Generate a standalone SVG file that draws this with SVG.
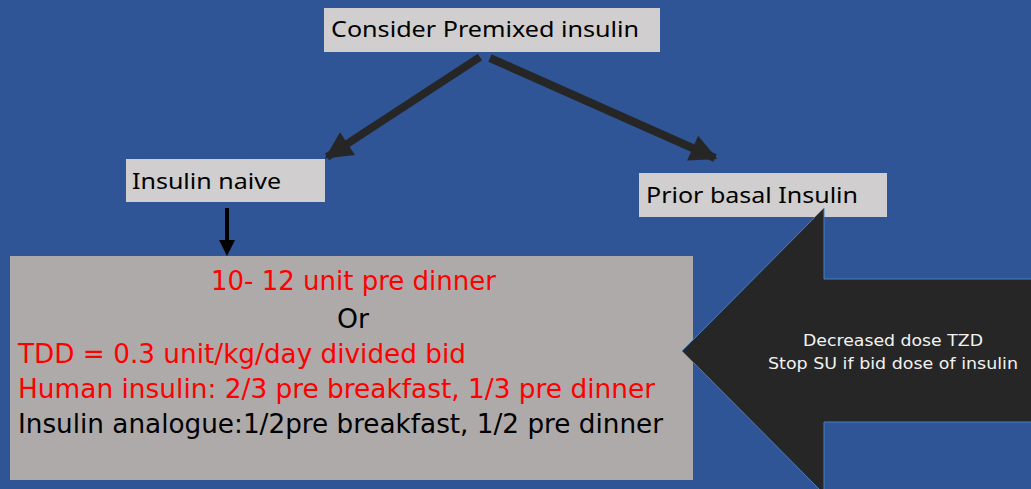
<svg xmlns="http://www.w3.org/2000/svg" width="1031" height="489" viewBox="0 0 1031 489">
<defs>
<style>
.lbl{fill:#D0CECE}
.t{font-family:"Noto Sans","Open Sans",sans-serif;font-size:22px;fill:#000}
.b{font-family:"DejaVu Sans Condensed","DejaVu Sans","Liberation Sans",sans-serif;font-size:26px}
.r{fill:#FF0000}
.k{fill:#000}
.w{font-family:"DejaVu Sans","Liberation Sans",sans-serif;font-size:15px;fill:#F2F2F2}
.con{stroke:#262626;stroke-width:8;fill:none}
</style>
<marker id="ah" viewBox="0 0 10 10" refX="9" refY="5" markerWidth="3.6" markerHeight="3.4" orient="auto" markerUnits="strokeWidth">
<path d="M0,0 L10,5 L0,10 Z" fill="#262626"/>
</marker>
</defs>
<rect width="1031" height="489" fill="#2F5597"/>
<g id="connectors">
<line class="con" x1="480" y1="57" x2="327" y2="157" marker-end="url(#ah)"/>
<line class="con" x1="490" y1="58" x2="715" y2="158" marker-end="url(#ah)"/>
<line x1="227" y1="208" x2="227" y2="242" stroke="#000" stroke-width="4"/>
<path d="M219,240 L235,240 L227,256 Z" fill="#000"/>
</g>
<g id="node-premixed">
<rect class="lbl" x="324" y="8" width="336" height="44"/>
<text class="t" x="331" y="37" textLength="308" lengthAdjust="spacingAndGlyphs">Consider Premixed insulin</text>
</g>
<g id="node-naive">
<rect class="lbl" x="126" y="159" width="199" height="43"/>
<text class="t" x="132" y="189" textLength="149" lengthAdjust="spacingAndGlyphs">Insulin naive</text>
</g>
<g id="node-basal">
<rect class="lbl" x="639" y="173" width="248" height="44"/>
<text class="t" x="646" y="203" textLength="212" lengthAdjust="spacingAndGlyphs">Prior basal Insulin</text>
</g>
<g id="node-dosing">
<rect x="10" y="256" width="683" height="224" fill="#AEAAAA"/>
<text class="b r" x="211" y="290" textLength="285" lengthAdjust="spacingAndGlyphs">10- 12 unit pre dinner</text>
<text class="b k" x="337" y="328" textLength="32" lengthAdjust="spacingAndGlyphs">Or</text>
<text class="b r" x="18" y="363" textLength="448" lengthAdjust="spacingAndGlyphs">TDD = 0.3 unit/kg/day divided bid</text>
<text class="b r" x="18" y="398" textLength="637" lengthAdjust="spacingAndGlyphs">Human insulin: 2/3 pre breakfast, 1/3 pre dinner</text>
<text class="b k" x="18" y="433" textLength="645" lengthAdjust="spacingAndGlyphs">Insulin analogue:1/2pre breakfast, 1/2 pre dinner</text>
</g>
<g id="node-arrow">
<path d="M682,351 L824,208 L824,279 L1032,279 L1032,422 L824,422 L824,494 Z" fill="#262626" stroke="#4A7EBB" stroke-width="1"/>
<text class="w" x="893" y="346" text-anchor="middle" textLength="180" lengthAdjust="spacingAndGlyphs">Decreased dose TZD</text>
<text class="w" x="893" y="369" text-anchor="middle" textLength="250" lengthAdjust="spacingAndGlyphs">Stop SU if bid dose of insulin</text>
</g>
</svg>
